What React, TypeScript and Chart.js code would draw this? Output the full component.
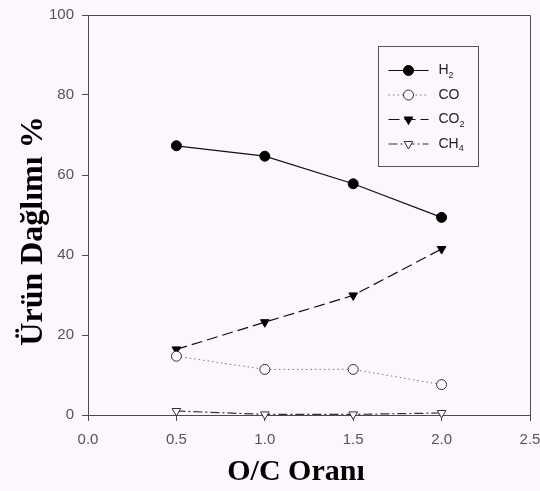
import React, { useEffect, useRef } from "react";
import { Chart, registerables } from "chart.js";

Chart.register(...registerables);

const xValues = [0.5, 1.0, 1.5, 2.0];
const h2Values = [67.3, 64.7, 57.8, 49.4];
const coValues = [14.7, 11.4, 11.4, 7.6];
const co2Values = [16.4, 23.2, 29.9, 41.5];
const ch4Values = [1.0, 0.15, 0.15, 0.5];
const seriesLabels = ["H₂", "CO", "CO₂", "CH₄"];
const yTitle = "Ürün Dağlımı %";
const xTitle = "O/C Oranı";

const BG = "#fdf6fd";
const AXIS = "#4a4a4a";

const toPoints = (ys: number[]) => xValues.map((x, i) => ({ x, y: ys[i] }));

const framePlugin = {
  id: "frame",
  afterDatasetsDraw(chart: any) {
    const { ctx, chartArea } = chart;
    ctx.save();
    ctx.strokeStyle = AXIS;
    ctx.lineWidth = 1;
    ctx.beginPath();
    ctx.moveTo(chartArea.left, chartArea.top + 0.5);
    ctx.lineTo(chartArea.right + 0.5, chartArea.top + 0.5);
    ctx.lineTo(chartArea.right + 0.5, chartArea.bottom);
    ctx.stroke();
    ctx.restore();
  },
};

const titlesPlugin = {
  id: "axisTitles",
  afterDraw(chart: any) {
    const { ctx, chartArea } = chart;
    ctx.save();
    ctx.fillStyle = "#000";
    ctx.textAlign = "center";
    ctx.textBaseline = "alphabetic";
    ctx.font = "bold 30px 'Liberation Serif', 'Times New Roman', serif";
    ctx.fillText(xTitle, chartArea.left + 208, chartArea.bottom + 65);
    ctx.translate(42, chartArea.top + 216);
    ctx.rotate(-Math.PI / 2);
    ctx.font = "bold 32px 'Liberation Serif', 'Times New Roman', serif";
    ctx.fillText(yTitle, 0, 0);
    ctx.restore();
  },
};

const subDigits: Record<string, string> = { "₂": "2", "₄": "4" };

const legendPlugin = {
  id: "boxLegend",
  afterDraw(chart: any) {
    const { ctx } = chart;
    const box = { x: 378.5, y: 46.5, w: 100, h: 120 };
    ctx.save();
    ctx.strokeStyle = "#555";
    ctx.lineWidth = 1;
    ctx.setLineDash([]);
    ctx.strokeRect(box.x, box.y, box.w, box.h);
    chart.data.datasets.forEach((ds: any, i: number) => {
      const cy = box.y + 24 + i * 24.5;
      const x0 = box.x + 10;
      const x1 = box.x + 50;
      const cx = (x0 + x1) / 2;
      ctx.strokeStyle = ds.borderColor;
      ctx.lineWidth = ds.borderWidth;
      ctx.setLineDash(ds.borderDash || []);
      ctx.beginPath();
      ctx.moveTo(x0, cy);
      ctx.lineTo(x1, cy);
      ctx.stroke();
      ctx.setLineDash([]);
      const r = ds.pointRadius;
      ctx.fillStyle = ds.pointBackgroundColor;
      ctx.strokeStyle = ds.pointBorderColor;
      ctx.lineWidth = ds.pointBorderWidth;
      ctx.beginPath();
      if (ds.pointStyle === "circle") {
        ctx.arc(cx, cy, r, 0, Math.PI * 2);
      } else {
        ctx.moveTo(cx - r * 0.866, cy - r * 0.5);
        ctx.lineTo(cx + r * 0.866, cy - r * 0.5);
        ctx.lineTo(cx, cy + r);
        ctx.closePath();
      }
      ctx.fill();
      ctx.stroke();
      let tx = box.x + 60;
      ctx.fillStyle = "#222";
      ctx.textBaseline = "middle";
      for (const ch of ds.label as string) {
        if (subDigits[ch]) {
          ctx.font = "9px 'Liberation Sans', Arial, sans-serif";
          ctx.fillText(subDigits[ch], tx, cy + 5);
          tx += ctx.measureText(subDigits[ch]).width;
        } else {
          ctx.font = "14px 'Liberation Sans', Arial, sans-serif";
          ctx.fillText(ch, tx, cy);
          tx += ctx.measureText(ch).width;
        }
      }
    });
    ctx.restore();
  },
};

export default function App() {
  const ref = useRef<HTMLCanvasElement | null>(null);

  useEffect(() => {
    document.body.style.margin = "0";
    document.body.style.background = BG;
    if (!ref.current) return;
    const tickFont = { family: "'Liberation Sans', Arial, sans-serif", size: 15 };
    const chart = new Chart(ref.current, {
      type: "line",
      data: {
        datasets: [
          {
            label: seriesLabels[0],
            data: toPoints(h2Values),
            borderColor: "#111",
            borderWidth: 1.2,
            borderDash: [],
            pointStyle: "circle",
            pointRadius: 5,
            pointBackgroundColor: "#000",
            pointBorderColor: "#000",
            pointBorderWidth: 1,
            clip: false,
          },
          {
            label: seriesLabels[1],
            data: toPoints(coValues),
            borderColor: "#777",
            borderWidth: 1,
            borderDash: [1.5, 3],
            pointStyle: "circle",
            pointRadius: 5,
            pointBackgroundColor: BG,
            pointBorderColor: "#333",
            pointBorderWidth: 1,
            clip: false,
          },
          {
            label: seriesLabels[2],
            data: toPoints(co2Values),
            borderColor: "#111",
            borderWidth: 1.2,
            borderDash: [11, 5],
            pointStyle: "triangle",
            pointRotation: 180,
            pointRadius: 5,
            pointBackgroundColor: "#000",
            pointBorderColor: "#000",
            pointBorderWidth: 1,
            clip: false,
          },
          {
            label: seriesLabels[3],
            data: toPoints(ch4Values),
            borderColor: "#333",
            borderWidth: 1.2,
            borderDash: [9, 3, 2, 3],
            pointStyle: "triangle",
            pointRotation: 180,
            pointRadius: 5,
            pointBackgroundColor: BG,
            pointBorderColor: "#333",
            pointBorderWidth: 1,
            clip: false,
          },
        ] as any,
      },
      options: {
        responsive: false,
        animation: false,
        layout: { padding: { top: 15, right: 10, left: 0, bottom: 0 } },
        plugins: { legend: { display: false }, tooltip: { enabled: false } },
        scales: {
          x: {
            type: "linear",
            min: 0,
            max: 2.5,
            afterFit: (s: any) => {
              s.height = 76;
              s.paddingLeft = 0;
              s.paddingRight = 0;
            },
            ticks: {
              stepSize: 0.5,
              font: tickFont,
              color: "#555",
              padding: 10,
              maxRotation: 0,
              callback: (v: any) => Number(v).toFixed(1),
            },
            grid: { drawOnChartArea: false, drawTicks: true, tickLength: 6, color: AXIS },
            border: { color: AXIS, width: 1 },
          },
          y: {
            type: "linear",
            min: 0,
            max: 100,
            afterFit: (s: any) => {
              s.width = 88;
              s.paddingTop = 0;
              s.paddingBottom = 0;
            },
            ticks: { stepSize: 20, font: tickFont, color: "#555", padding: 8 },
            grid: { drawOnChartArea: false, drawTicks: true, tickLength: 6, color: AXIS },
            border: { color: AXIS, width: 1 },
          },
        },
      },
      plugins: [framePlugin, titlesPlugin, legendPlugin],
    });
    return () => chart.destroy();
  }, []);

  return (
    <div style={{ position: "absolute", left: 0, top: 0, width: 540, height: 491, background: BG }}>
      <canvas ref={ref} width={540} height={491} />
    </div>
  );
}
